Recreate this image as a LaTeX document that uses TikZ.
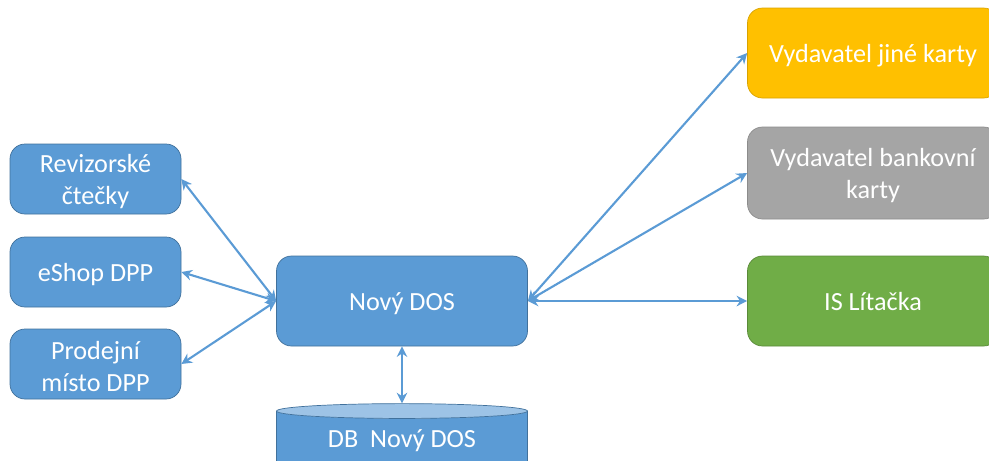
\documentclass[tikz,border=0pt]{standalone}
\usepackage{fontspec}
\setmainfont{Carlito}
\usetikzlibrary{arrows.meta, shapes.geometric}

\definecolor{boxblue}{HTML}{5B9BD5}
\definecolor{boxedge}{HTML}{41719C}
\definecolor{linkblue}{HTML}{5B9BD5}
\definecolor{boxgold}{HTML}{FFC000}
\definecolor{boxgrey}{HTML}{A5A5A5}
\definecolor{boxgreen}{HTML}{70AD47}
\definecolor{dbtop}{HTML}{9DC3E6}

\tikzset{
    box/.style = {draw = boxedge, fill = boxblue, rounded corners = 0.3cm, text = white,
            font = \fontsize{14.9}{18.2}\selectfont, align = center, line width = 0.4pt,
            minimum width = 3.42cm, minimum height = 1.4cm, inner sep = 0pt},
    wide/.style = {box, minimum width = 5.02cm, minimum height = 1.8cm},
    oneline/.style = {text height = 14pt, text depth = 3.6pt},
    twoline/.style = {text height = 31pt},
    link/.style = {draw = linkblue, line width = 1.2pt, {Stealth[length = 6pt, width = 6pt]}-{Stealth[length = 6pt, width = 6pt]}}
}

\begin{document}
\begin{tikzpicture}

        \clip (0, 0) rectangle (19.78, -9.2);

        \node[box, twoline] (revizor) at (1.91, -3.58) {Revizorské\\čtečky};
        \node[box, oneline] (eshop) at (1.91, -5.44) {eShop DPP};
        \node[box, twoline] (prodej) at (1.91, -7.28) {Prodejní\\místo DPP};

        \node[wide, oneline] (dos) at (8.04, -6.02) {Nový DOS};

        \node[wide, oneline, fill = boxgold, draw = boxgold!85!black] (jina) at (17.46, -1.06) {Vydavatel jiné karty};
        \node[wide, twoline, fill = boxgrey, draw = boxgrey!85!black, minimum height = 1.84cm] (banka) at (17.46, -3.46) {Vydavatel bankovní\\karty};
        \node[wide, oneline, fill = boxgreen, draw = boxgreen!80!black] (litacka) at (17.46, -6.02) {IS Lítačka};

        \node[cylinder, shape border rotate = 90, aspect = 0.1, draw = boxedge,
            cylinder uses custom fill, cylinder body fill = boxblue, cylinder end fill = dbtop,
            minimum width = 5.02cm, minimum height = 1.34cm, inner sep = 0pt,
            text = white, font = \fontsize{14.9}{18.2}\selectfont] (db) at (8.04, -8.82) {DB\ \ Nový DOS};

        \foreach \i in {revizor, eshop, prodej}{
                \draw[link] (\i.east) -- (dos.west);
            }

        \foreach \i in {jina, banka, litacka}{
                \draw[link] (dos.east) -- (\i.west);
            }

        \draw[link] (dos.south) -- (db.north);

    \end{tikzpicture}
\end{document}
